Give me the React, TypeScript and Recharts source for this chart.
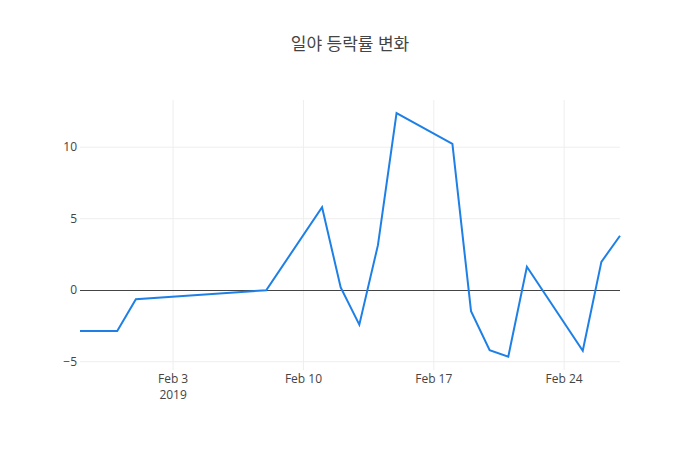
import React from 'react';
import { LineChart, Line, XAxis, YAxis, CartesianGrid, ReferenceLine } from 'recharts';

// daily change rate (%)
const dates = [
  '2019-01-29', '2019-01-31', '2019-02-01', '2019-02-08', '2019-02-11', '2019-02-12',
  '2019-02-13', '2019-02-14', '2019-02-15', '2019-02-18', '2019-02-19', '2019-02-20',
  '2019-02-21', '2019-02-22', '2019-02-25', '2019-02-26', '2019-02-27',
];
const changes = [
  -2.85, -2.85, -0.63, 0.0, 5.8, 0.19, -2.41, 3.15, 12.38, 10.23, -1.47, -4.2,
  -4.65, 1.64, -4.23, 1.98, 3.81,
];

const xTickDates = ['2019-02-03', '2019-02-10', '2019-02-17', '2019-02-24'];
const yTicks = [-5, 0, 5, 10];

const toTime = (d: string) => new Date(d + 'T00:00:00Z').getTime();
const MONTHS = ['Jan', 'Feb', 'Mar', 'Apr', 'May', 'Jun', 'Jul', 'Aug', 'Sep', 'Oct', 'Nov', 'Dec'];

const data = dates.map((d, i) => ({ t: toTime(d), v: changes[i] }));
const xTicks = xTickDates.map(toTime);

const FONT = '"Open Sans", "Noto Sans CJK KR", sans-serif';

const DateTick = (props: any) => {
  const { x, y, payload, index } = props;
  const d = new Date(payload.value);
  const label = `${MONTHS[d.getUTCMonth()]} ${d.getUTCDate()}`;
  return (
    <g>
      <text x={x} y={y + 13} textAnchor="middle" fill="#444" fontSize={12} fontFamily={FONT}>
        {label}
      </text>
      {index === 0 && (
        <text x={x} y={y + 29} textAnchor="middle" fill="#444" fontSize={12} fontFamily={FONT}>
          {d.getUTCFullYear()}
        </text>
      )}
    </g>
  );
};

export default function App() {
  return (
    <div style={{ position: 'absolute', left: 0, top: 0, width: 700, height: 450, background: '#fff' }}>
      <div
        style={{
          position: 'absolute', top: 34, left: 0, width: 700, textAlign: 'center',
          fontFamily: FONT, fontSize: 17, lineHeight: '20px', color: '#444',
        }}
      >
        일야 등락률 변화
      </div>
      <LineChart width={700} height={450} data={data} margin={{ top: 100, right: 80, bottom: 0, left: 40 }}>
        <CartesianGrid stroke="#eee" strokeWidth={1} verticalValues={xTicks} horizontalValues={[-5, 5, 10]} />
        <XAxis
          dataKey="t"
          type="number"
          scale="time"
          domain={[toTime('2019-01-29'), toTime('2019-02-27')]}
          ticks={xTicks}
          tick={<DateTick />}
          axisLine={false}
          tickLine={false}
          tickSize={0}
          tickMargin={0}
          height={80}
          interval={0}
        />
        <YAxis
          type="number"
          domain={[-5.58, 13.3]}
          ticks={yTicks}
          tickFormatter={(v: number) => (v < 0 ? `\u2212${Math.abs(v)}` : `${v}`)}
          tick={{ fill: '#444', fontSize: 12, fontFamily: FONT }}
          axisLine={false}
          tickLine={false}
          tickSize={0}
          tickMargin={3}
          width={40}
          allowDataOverflow
          interval={0}
        />
        <ReferenceLine y={0} stroke="#444" strokeWidth={1} shapeRendering="crispEdges" />
        <Line
          type="linear"
          dataKey="v"
          stroke="#1e80e6"
          strokeWidth={2}
          dot={false}
          activeDot={false}
          isAnimationActive={false}
        />
      </LineChart>
    </div>
  );
}
